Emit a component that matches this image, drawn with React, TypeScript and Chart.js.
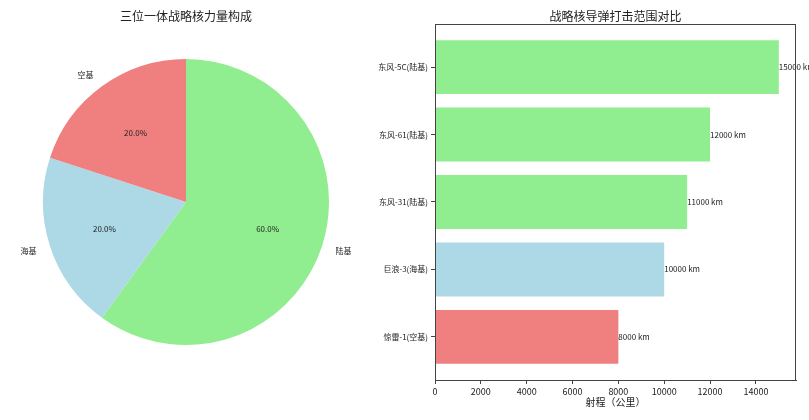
import React, { useEffect, useRef } from "react";
import { Chart, registerables } from "chart.js";

Chart.register(...registerables);

const FONT = '"Noto Sans CJK SC", "DejaVu Sans", sans-serif';

// Pie data (clockwise from top)
const pieLabels = ["陆基", "海基", "空基"];
const pieValues = [60, 20, 20];
const pieColors = ["#90EE90", "#ADD8E6", "#F08080"];
const pieTitle = "三位一体战略核力量构成";

// Bar data (bottom to top)
const missiles = ["惊雷-1(空基)", "巨浪-3(海基)", "东风-31(陆基)", "东风-61(陆基)", "东风-5C(陆基)"];
const ranges = [8000, 10000, 11000, 12000, 15000];
const barColors = ["#F08080", "#ADD8E6", "#90EE90", "#90EE90", "#90EE90"];
const xTicks = [0, 2000, 4000, 6000, 8000, 10000, 12000, 14000];
const barTitle = "战略核导弹打击范围对比";
const xTitle = "射程（公里）";

export default function App() {
  const pieRef = useRef<HTMLCanvasElement>(null);
  const barRef = useRef<HTMLCanvasElement>(null);

  useEffect(() => {
    const pieLabelPlugin = {
      id: "pieLabels",
      afterDatasetsDraw(chart: any) {
        const ctx = chart.ctx;
        const meta = chart.getDatasetMeta(0);
        const total = pieValues.reduce((a, b) => a + b, 0);
        ctx.save();
        ctx.fillStyle = "#222";
        meta.data.forEach((arc: any, i: number) => {
          const mid = (arc.startAngle + arc.endAngle) / 2;
          const r = arc.outerRadius;
          const cx = arc.x, cy = arc.y;
          const c = Math.cos(mid), s = Math.sin(mid);
          ctx.font = `8px ${FONT}`;
          ctx.textBaseline = "middle";
          ctx.textAlign = c < 0 ? "right" : "left";
          ctx.fillText(pieLabels[i], cx + c * r * 1.1, cy + s * r * 1.1);
          ctx.textAlign = "center";
          const pct = ((pieValues[i] / total) * 100).toFixed(1) + "%";
          ctx.fillText(pct, cx + c * r * 0.6, cy + s * r * 0.6);
        });
        ctx.font = `12px ${FONT}`;
        ctx.textAlign = "center";
        ctx.textBaseline = "middle";
        ctx.fillText(pieTitle, 186, 16);
        ctx.restore();
      },
    };

    const pie = new Chart(pieRef.current!, {
      type: "pie",
      data: {
        labels: pieLabels,
        datasets: [{ data: pieValues, backgroundColor: pieColors, borderWidth: 0 }],
      },
      options: {
        responsive: false,
        animation: false,
        rotation: 0,
        layout: { padding: { left: 43, right: 43, top: 59, bottom: 75 } },
        plugins: { legend: { display: false }, tooltip: { enabled: false }, title: { display: false } },
      },
      plugins: [pieLabelPlugin],
    });

    const barPlugin = {
      id: "barExtras",
      afterDatasetsDraw(chart: any) {
        const ctx = chart.ctx;
        const meta = chart.getDatasetMeta(0);
        const a = chart.chartArea;
        ctx.save();
        ctx.fillStyle = "#222";
        ctx.font = `8px ${FONT}`;
        ctx.textAlign = "left";
        ctx.textBaseline = "middle";
        meta.data.forEach((bar: any, i: number) => {
          ctx.fillText(`${ranges[i]} km`, bar.x, bar.y);
        });
        ctx.strokeStyle = "#444";
        ctx.lineWidth = 1;
        ctx.strokeRect(a.left + 0.5, a.top + 0.5, a.right - a.left - 1, a.bottom - a.top);
        ctx.font = `12px ${FONT}`;
        ctx.textAlign = "center";
        ctx.fillText(barTitle, (a.left + a.right) / 2, 16);
        ctx.font = `10px ${FONT}`;
        ctx.fillText(xTitle, (a.left + a.right) / 2, 402);
        ctx.restore();
      },
    };

    const bar = new Chart(barRef.current!, {
      type: "bar",
      data: {
        datasets: [
          {
            data: missiles.map((_, i) => ({ x: ranges[i], y: i })) as any,
            backgroundColor: barColors,
            borderWidth: 0,
            barPercentage: 0.8,
            categoryPercentage: 1,
          },
        ],
      },
      options: {
        responsive: false,
        animation: false,
        indexAxis: "y",
        layout: { padding: { left: 0, right: 13, top: 24, bottom: 0 } },
        plugins: { legend: { display: false }, tooltip: { enabled: false }, title: { display: false } },
        scales: {
          x: {
            type: "linear",
            min: 0,
            max: 15750,
            offset: false,
            afterBuildTicks: (scale: any) => {
              scale.ticks = xTicks.map((v) => ({ value: v }));
            },
            afterFit: (scale: any) => {
              scale.height = 40;
            },
            grid: { offset: false, drawOnChartArea: false, drawTicks: true, tickLength: 4, color: "#444" },
            border: { display: true, color: "#444" },
            ticks: {
              font: { family: FONT, size: 9 },
              color: "#222",
              padding: 2,
              maxRotation: 0,
              callback: (v: any) => String(v),
            },
          },
          y: {
            type: "linear",
            min: -0.64,
            max: 4.64,
            offset: false,
            afterBuildTicks: (scale: any) => {
              scale.ticks = missiles.map((_, i) => ({ value: i }));
            },
            afterFit: (scale: any) => {
              scale.width = 63;
            },
            grid: { offset: false, drawOnChartArea: false, drawTicks: true, tickLength: 4, color: "#444" },
            border: { display: true, color: "#444" },
            ticks: {
              font: { family: FONT, size: 8 },
              color: "#222",
              padding: 3,
              callback: (v: any) => missiles[Math.round(v)] ?? "",
            },
          },
        },
      },
      plugins: [barPlugin],
    });

    return () => {
      pie.destroy();
      bar.destroy();
    };
  }, []);

  return (
    <div style={{ position: "fixed", left: 0, top: 0, width: 809, height: 420, background: "#fff" }}>
      <canvas ref={pieRef} width={372} height={420} style={{ position: "absolute", left: 0, top: 0 }} />
      <canvas ref={barRef} width={437} height={420} style={{ position: "absolute", left: 372, top: 0 }} />
    </div>
  );
}
